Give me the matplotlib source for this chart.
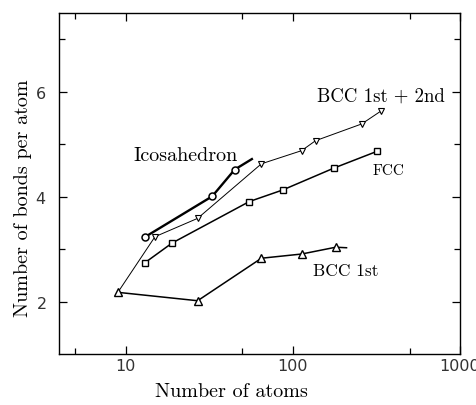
import numpy as np
import matplotlib.pyplot as plt
from matplotlib.ticker import FixedLocator, NullFormatter

# data
ico_n = [13, 33, 45, 57]
ico_b = [3.23, 4.01, 4.52, 4.72]

bcc12_n = [9, 15, 27, 65, 113, 137, 259, 339]
bcc12_b = [2.18, 3.24, 3.59, 4.63, 4.88, 5.07, 5.39, 5.64]

fcc_n = [13, 19, 55, 87, 177, 321]
fcc_b = [2.74, 3.12, 3.91, 4.13, 4.55, 4.87]

bcc1_n = [9, 27, 65, 113, 181, 210]
bcc1_b = [2.18, 2.02, 2.83, 2.91, 3.04, 3.03]

serif = 'cmr10'
plt.rcParams['axes.formatter.use_mathtext'] = True

fig = plt.figure(figsize=(4.76, 4.06), dpi=100)
ax = fig.add_axes([0.124, 0.125, 0.842, 0.84])

mk = dict(markerfacecolor='white', markeredgecolor='black', color='black')
ax.plot(bcc12_n, bcc12_b, marker='v', markersize=4, lw=0.7, markeredgewidth=0.8,
        markevery=list(range(1, len(bcc12_n))), **mk)
ax.plot(fcc_n, fcc_b, marker='s', markersize=4.5, lw=1.1, markeredgewidth=1.0, **mk)
ax.plot(bcc1_n, bcc1_b, marker='^', markersize=5.5, lw=1.1, markeredgewidth=1.0,
        markevery=list(range(len(bcc1_n) - 1)), **mk)
ax.plot(ico_n, ico_b, marker='o', markersize=5, lw=1.7, markeredgewidth=1.1,
        markevery=list(range(len(ico_n) - 1)), **mk)

ax.set_xscale('log')
ax.set_xlim(4, 1000)
ax.set_ylim(1, 7.5)
ax.xaxis.set_major_locator(FixedLocator([10, 100, 1000]))
ax.xaxis.set_minor_locator(FixedLocator([5, 50, 500]))
ax.xaxis.set_minor_formatter(NullFormatter())
ax.set_xticklabels(['10', '100', '1000'])
ax.set_yticks([2, 4, 6])
ax.set_yticks([3, 5, 7], minor=True)
ax.tick_params(which='both', direction='in', top=True, right=True, labelsize=11.5,
               labelcolor='#333333', width=0.9)
ax.tick_params(which='major', length=6)
ax.tick_params(axis='x', which='major', pad=3)
ax.tick_params(axis='y', which='major', pad=9)
ax.tick_params(which='minor', length=4)
for s in ax.spines.values():
    s.set_linewidth(1.0)

ax.set_xlabel('Number of atoms', family=serif, fontsize=14.5)
ax.set_ylabel('Number of bonds per atom', family=serif, fontsize=14.5)
ax.xaxis.set_label_coords(0.429, -0.083)
ax.yaxis.set_label_coords(-0.068, 0.462)

ax.text(11.2, 4.80, 'Icosahedron', family=serif, fontsize=14.5, ha='left', va='center')
ax.text(140, 5.92, 'BCC 1st + 2nd', family=serif, fontsize=13.5, ha='left', va='center')
ax.text(376, 4.5, 'FCC', family=serif, fontsize=11, ha='center', va='center')
ax.text(132, 2.59, 'BCC 1st', family=serif, fontsize=12.5, ha='left', va='center')

fig.savefig('out.png', dpi=100)
